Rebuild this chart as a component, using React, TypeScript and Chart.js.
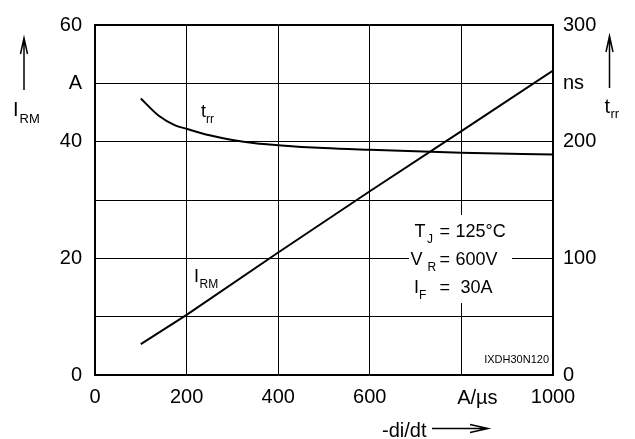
import { useEffect, useRef } from 'react';
import { Chart, registerables } from 'chart.js';

Chart.register(...registerables);

const FONT = "'Liberation Sans', Arial, Helvetica, sans-serif";

// -di/dt (A/µs) vs I_RM (A)
const irmX = [100, 200, 400, 600, 800, 1000];
const irmY = [5.3, 10.3, 21.0, 31.5, 41.8, 52.2];

// -di/dt (A/µs) vs t_rr (ns)
const trrX = [100, 140, 175, 200, 250, 300, 350, 400, 500, 600, 800, 1000];
const trrY = [237, 222, 214, 211, 205.5, 201.5, 198.7, 197, 194.5, 193, 190.5, 189];

const xMin = 0, xMax = 1000, xStep = 200;
const yMin = 0, yMax = 60, yStep = 10, yLabelStep = 20;
const y2Min = 0, y2Max = 300, y2Step = 50, y2LabelStep = 100;
const yUnit = 'A';
const yUnitAt = 50;
const y2Unit = 'ns';
const y2UnitAt = 250;
const xUnit = 'A/µs';
const xUnitAt = 800;

const conditions = [
  { main: 'T', sub: 'J', eq: '=', val: '125°C' },
  { main: 'V', sub: 'R', eq: '=', val: '600V' },
  { main: 'I', sub: 'F', eq: '=', val: ' 30A' },
];
const partNo = 'IXDH30N120';

function txt(ctx: CanvasRenderingContext2D, s: string, x: number, y: number, size: number, align: CanvasTextAlign = 'left') {
  ctx.font = `${size}px ${FONT}`;
  ctx.textAlign = align;
  ctx.textBaseline = 'alphabetic';
  ctx.fillStyle = '#000';
  ctx.fillText(s, x, y);
}

function arrowUp(ctx: CanvasRenderingContext2D, x: number, y0: number, y1: number) {
  ctx.beginPath();
  ctx.moveTo(x, y0);
  ctx.lineTo(x, y1);
  ctx.moveTo(x - 3.5, y1 + 16);
  ctx.lineTo(x, y1);
  ctx.lineTo(x + 3.5, y1 + 16);
  ctx.stroke();
}

function arrowRight(ctx: CanvasRenderingContext2D, x0: number, x1: number, y: number) {
  ctx.beginPath();
  ctx.moveTo(x0, y);
  ctx.lineTo(x1, y);
  ctx.moveTo(x1 - 18, y - 4);
  ctx.lineTo(x1, y);
  ctx.lineTo(x1 - 18, y + 4);
  ctx.stroke();
}

const overlay = {
  id: 'overlay',
  afterDraw(chart: any) {
    const ctx: CanvasRenderingContext2D = chart.ctx;
    const a = chart.chartArea;
    const xs = chart.scales.x;
    ctx.save();
    ctx.strokeStyle = '#000';
    ctx.lineWidth = 2;
    ctx.strokeRect(a.left, a.top, a.right - a.left, a.bottom - a.top);

    // x unit label in place of 800
    txt(ctx, xUnit, xs.getPixelForValue(xUnitAt) + 16, 404, 20, 'center');

    // axis titles
    ctx.lineWidth = 1.5;
    arrowUp(ctx, 24, 90, 38);
    txt(ctx, 'I', 13, 116, 20);
    txt(ctx, 'RM', 19.5, 123, 13);

    arrowUp(ctx, 609.5, 88, 36);
    txt(ctx, 't', 604.5, 113, 20);
    txt(ctx, 'rr', 610.5, 118, 13);

    txt(ctx, '-di/dt', 382, 437, 20);
    arrowRight(ctx, 432, 488, 428.5);

    // curve labels
    txt(ctx, 't', 201, 117, 18);
    txt(ctx, 'rr', 206, 123, 12);
    txt(ctx, 'I', 194, 282, 18);
    txt(ctx, 'RM', 199.5, 288, 12);

    // conditions box
    ctx.fillStyle = '#fff';
    ctx.fillRect(409, 215, 103, 88);
    const baselines = [236.7, 265, 293.3];
    const mainX = [414.5, 410.5, 414];
    const subX = [427, 427.5, 419];
    conditions.forEach((c, i) => {
      const b = baselines[i];
      txt(ctx, c.main, mainX[i], b, 18);
      txt(ctx, c.sub, subX[i], b + 6, 12);
      txt(ctx, c.eq, 439.5, b, 18);
      txt(ctx, c.val, 455.5, b, 18);
    });

    txt(ctx, partNo, 549, 363, 11, 'right');
    ctx.restore();
  },
};

export default function App() {
  const ref = useRef<HTMLCanvasElement>(null);
  useEffect(() => {
    if (!ref.current) return;
    const chart = new Chart(ref.current, {
      type: 'scatter',
      data: {
        datasets: [
          {
            label: 'IRM',
            data: irmX.map((x, i) => ({ x, y: irmY[i] })),
            yAxisID: 'y',
            showLine: true,
            borderColor: '#000',
            borderWidth: 2,
            pointRadius: 0,
            fill: false,
          },
          {
            label: 'trr',
            data: trrX.map((x, i) => ({ x, y: trrY[i] })),
            yAxisID: 'y2',
            showLine: true,
            borderColor: '#000',
            borderWidth: 2,
            pointRadius: 0,
            cubicInterpolationMode: 'monotone',
            fill: false,
          },
        ],
      },
      options: {
        responsive: false,
        devicePixelRatio: 1,
        animation: false,
        layout: { padding: { top: 18, left: 0, right: 0, bottom: 0 } },
        plugins: { legend: { display: false }, tooltip: { enabled: false } },
        scales: {
          x: {
            type: 'linear',
            min: xMin,
            max: xMax,
            ticks: {
              stepSize: xStep,
              color: '#000',
              font: { family: FONT, size: 20 },
              padding: 10,
              maxRotation: 0,
              callback: (v: any) => (v === xUnitAt ? '' : String(v)),
            },
            grid: { color: '#000', lineWidth: 1, drawTicks: false },
            border: { display: true, color: '#000', width: 2 },
            afterFit: (s: any) => { s.height = 64; },
          },
          y: {
            type: 'linear',
            position: 'left',
            min: yMin,
            max: yMax,
            ticks: {
              stepSize: yStep,
              color: '#000',
              font: { family: FONT, size: 20 },
              padding: 13,
              callback: (v: any) => (v % yLabelStep === 0 ? String(v) : v === yUnitAt ? yUnit : ''),
            },
            grid: { color: '#000', lineWidth: 1, drawTicks: false },
            border: { display: true, color: '#000', width: 2 },
            afterFit: (s: any) => { s.width = 95; },
          },
          y2: {
            type: 'linear',
            position: 'right',
            min: y2Min,
            max: y2Max,
            ticks: {
              stepSize: y2Step,
              color: '#000',
              font: { family: FONT, size: 20 },
              padding: 10,
              callback: (v: any) => (v % y2LabelStep === 0 ? String(v) : v === y2UnitAt ? y2Unit : ''),
            },
            grid: { display: false, drawTicks: false },
            border: { display: true, color: '#000', width: 2 },
            afterFit: (s: any) => { s.width = 82; },
          },
        },
      },
      plugins: [overlay],
    } as any);
    return () => chart.destroy();
  }, []);
  return (
    <div style={{ position: 'absolute', left: 0, top: 0, width: 635, height: 439, background: '#fff' }}>
      <canvas ref={ref} width={635} height={439} />
    </div>
  );
}
